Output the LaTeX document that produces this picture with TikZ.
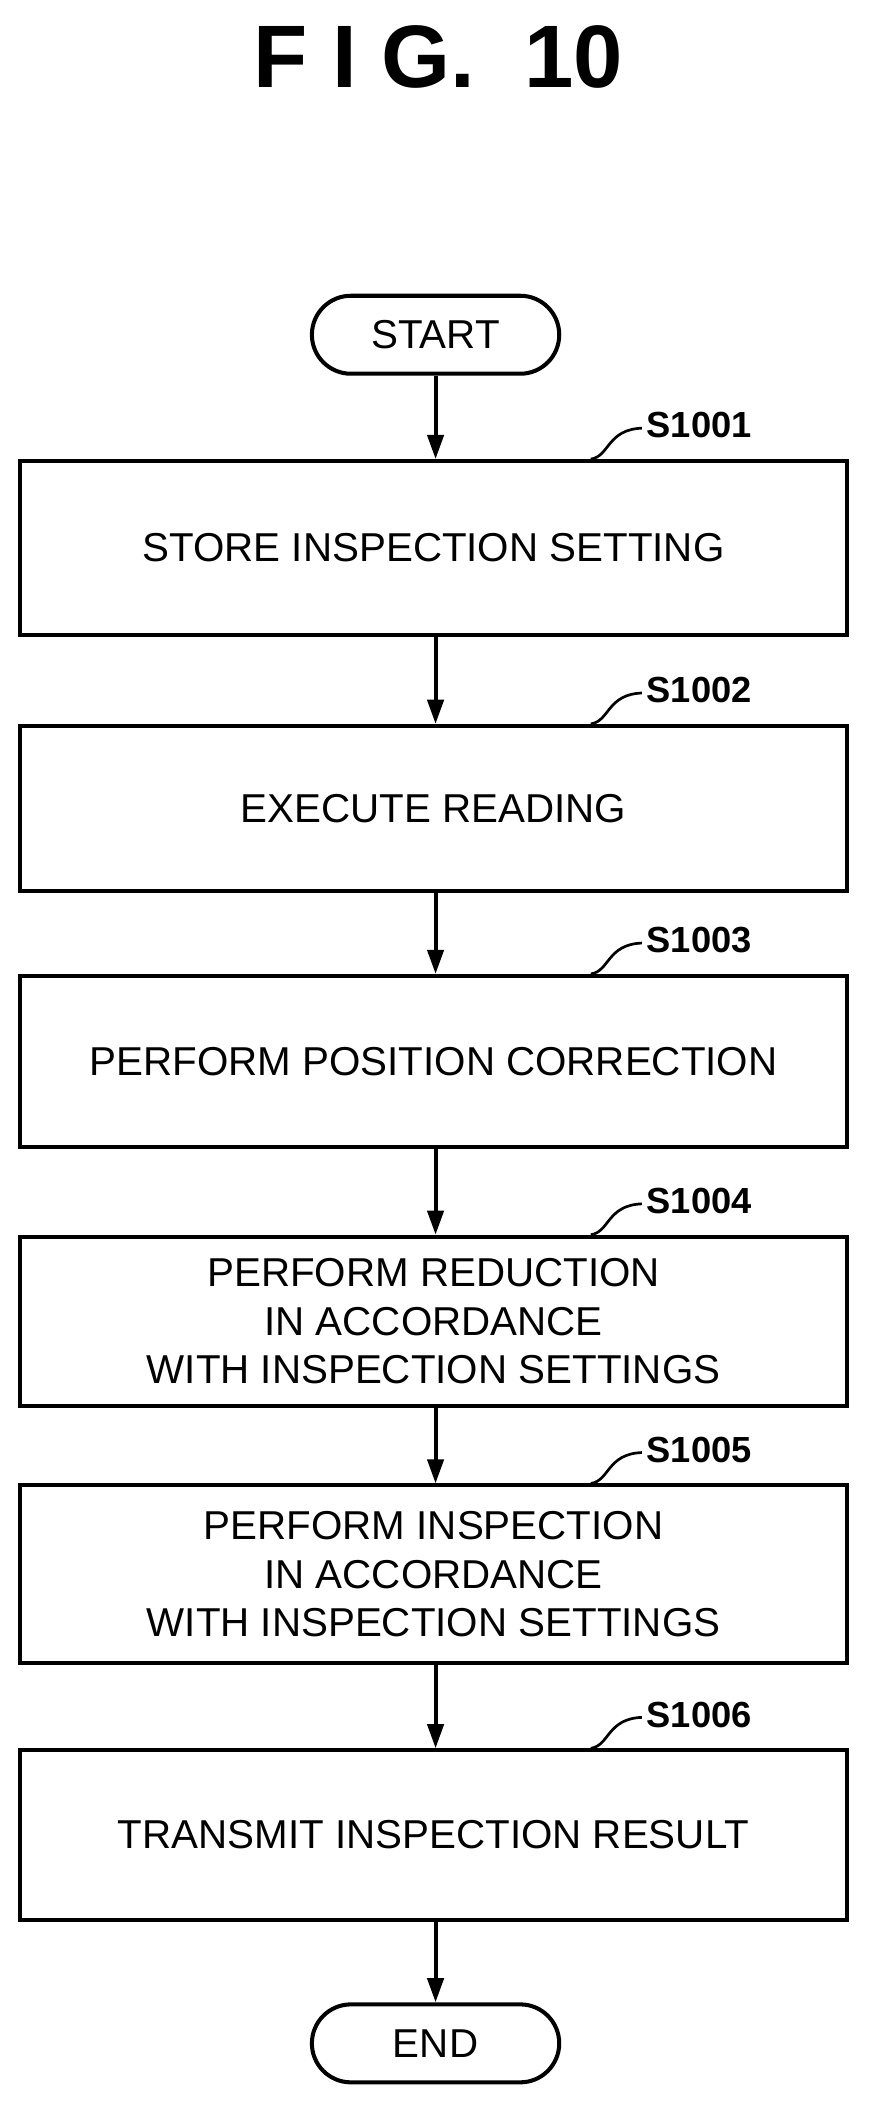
\documentclass[tikz,border=0pt]{standalone}
\usepackage{fontspec}
\setmainfont{Liberation Sans}
\usetikzlibrary{arrows.meta}
\begin{document}
\begin{tikzpicture}[x=1pt,y=-1pt,
  box/.style={draw,line width=3pt,minimum width=615pt,inner sep=0pt,align=center,font=\fontsize{30}{36}\selectfont},
  term/.style={draw,line width=3pt,rounded corners=29pt,minimum width=184pt,minimum height=58pt,font=\fontsize{30}{36}\selectfont},
  lbl/.style={font=\bfseries\fontsize{27}{30}\selectfont,anchor=west},
  arr/.style={line width=3pt,-{Triangle[length=18pt,width=12pt]}},
  lead/.style={line width=2pt}]
\useasboundingbox (0,0) rectangle (653,1580);
\node[font=\bfseries\fontsize{66}{70}\selectfont] (title) at (326,42) {F I G.\ \ 10};
\node[term] (start) at (324,249) {START};
\node[box,minimum height=129pt] (b1) at (322.5,407.5) {STORE INSPECTION SETTING};
\node[box,minimum height=123pt] (b2) at (322.5,601.5) {EXECUTE READING};
\node[box,minimum height=127pt] (b3) at (322.5,789.5) {PERFORM POSITION CORRECTION};
\node[box,minimum height=126pt] (b4) at (322.5,983) {PERFORM REDUCTION\\IN ACCORDANCE\\WITH INSPECTION SETTINGS};
\node[box,minimum height=132pt] (b5) at (322.5,1171) {PERFORM INSPECTION\\IN ACCORDANCE\\WITH INSPECTION SETTINGS};
\node[box,minimum height=126pt] (b6) at (322.5,1365) {TRANSMIT INSPECTION RESULT};
\node[term] (end) at (324,1520) {END};
\draw[arr] (start) -- (b1.north -| start);
\draw[arr] (b1.south -| start) -- (b2.north -| start);
\draw[arr] (b2.south -| start) -- (b3.north -| start);
\draw[arr] (b3.south -| start) -- (b4.north -| start);
\draw[arr] (b4.south -| start) -- (b5.north -| start);
\draw[arr] (b5.south -| start) -- (b6.north -| start);
\draw[arr] (b6.south -| start) -- (end);
\foreach \b/\t in {b1/S1001,b2/S1002,b3/S1003,b4/S1004,b5/S1005,b6/S1006}{
  \coordinate (\b s) at ([xshift=117pt]\b.north);
  \node[lbl] (\b l) at ([xshift=155pt,yshift=25pt]\b.north) {\t};
  \draw[lead] (\b s) .. controls ([xshift=14pt,yshift=2pt]\b s) and ([xshift=12pt,yshift=22pt]\b s) .. ([xshift=38pt,yshift=23pt]\b s);
}
\end{tikzpicture}
\end{document}
